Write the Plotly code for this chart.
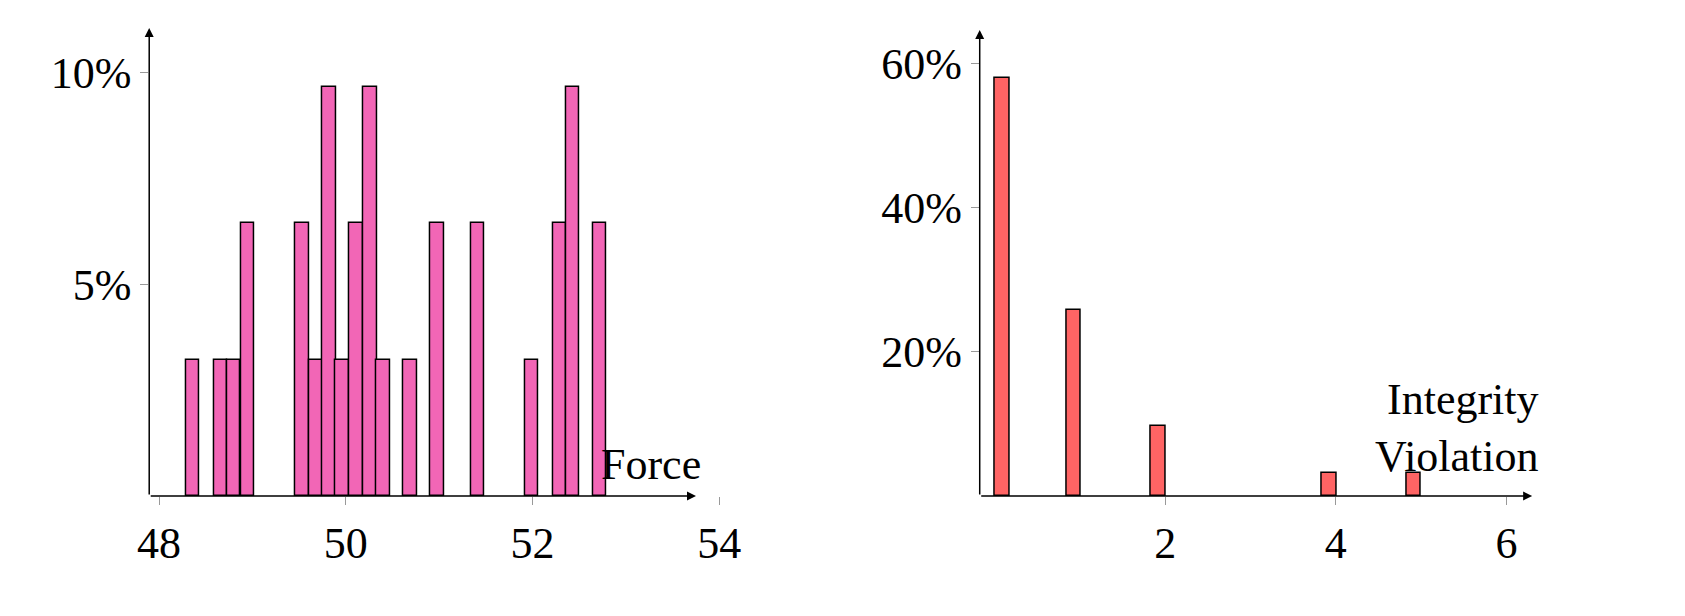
import plotly.graph_objects as go

force_centers = [48.36, 48.66, 48.80, 48.95, 49.53, 49.68, 49.82, 49.96, 50.11, 50.26, 50.40, 50.69, 50.98, 51.41, 51.99, 52.29, 52.43, 52.72]
force_counts = [1, 1, 1, 2, 2, 1, 3, 1, 2, 3, 1, 1, 2, 2, 1, 2, 3, 2]
viol_centers = [0.09, 0.93, 1.92, 3.92, 4.91]
viol_counts = [18, 8, 3, 1, 1]
N = 31
force_pct = [c / N * 100 for c in force_counts]
viol_pct = [c / N * 100 for c in viol_counts]
left_yticks = [5, 10]
right_yticks = [20, 40, 60]

W, H = 1685, 616
def py(p):
    return 1 - p / H
def px(p):
    return p / W

FONT = "Liberation Serif"
FS = 44
fig = go.Figure()
fig.add_trace(go.Bar(x=force_centers, y=force_pct, width=0.145, marker=dict(color="#F266B6", line=dict(color="black", width=1.5)), xaxis="x", yaxis="y"))
fig.add_trace(go.Bar(x=viol_centers, y=viol_pct, width=0.17, marker=dict(color="#FF6464", line=dict(color="black", width=1.5)), xaxis="x2", yaxis="y2"))

common = dict(showgrid=False, zeroline=False, showline=False,
              ticks="outside", tickcolor="#999", ticklen=8, tickfont=dict(size=FS, family=FONT, color="black"))
fig.update_layout(
    width=W, height=H, margin=dict(l=0, r=0, t=0, b=0), showlegend=False,
    plot_bgcolor="white", paper_bgcolor="white", bargap=0,
    xaxis=dict(domain=[px(131), px(720)], range=[47.894, 54.116], tickvals=[48, 50, 52, 54], anchor="y", **common),
    yaxis=dict(domain=[py(488), py(20)], range=[0, 11.06], tickmode="array", tickvals=left_yticks,
               ticktext=[f"{v}%" for v in left_yticks], anchor="x", **common),
    xaxis2=dict(domain=[px(973), px(1540)], range=[-0.173, 6.38], tickvals=[2, 4, 6], anchor="y2", **common),
    yaxis2=dict(domain=[py(488), py(22)], range=[0, 64.7], tickmode="array", tickvals=right_yticks,
                ticktext=[f"{v}%" for v in right_yticks], anchor="x2", **common),
)

arrow = dict(showarrow=True, arrowhead=2, arrowsize=1.2, arrowwidth=1.5, arrowcolor="black", text="")
fig.add_annotation(xref="x", yref="y", axref="x", ayref="y", x=53.75, y=0, ax=47.894, ay=0, **arrow)
fig.add_annotation(xref="x", yref="y", axref="x", ayref="y", x=47.894, y=11.06, ax=47.894, ay=0, **arrow)
fig.add_annotation(xref="x2", yref="y2", axref="x2", ayref="y2", x=6.3, y=0, ax=-0.173, ay=0, **arrow)
fig.add_annotation(xref="x2", yref="y2", axref="x2", ayref="y2", x=-0.173, y=64.7, ax=-0.173, ay=0, **arrow)

fig.add_annotation(xref="paper", yref="paper", x=px(692), y=py(456), text="Force", showarrow=False,
                   xanchor="right", yanchor="middle", font=dict(size=FS, family=FONT, color="black"))
fig.add_annotation(xref="paper", yref="paper", x=px(1542), y=py(420), text="Integrity<br>Violation", showarrow=False,
                   xanchor="right", yanchor="middle", align="right", font=dict(size=FS, family=FONT, color="black"))

fig.write_html("out.html")
